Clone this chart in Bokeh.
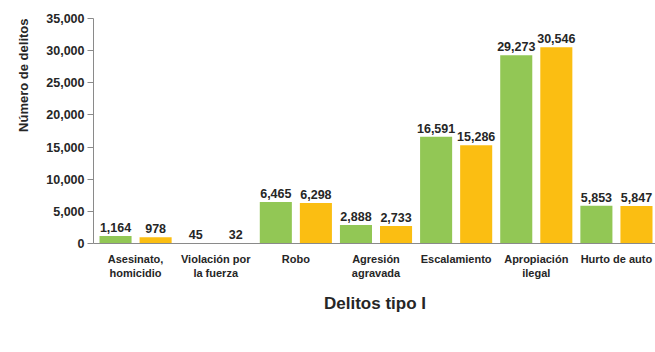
from bokeh.plotting import figure
from bokeh.models import ColumnDataSource, FixedTicker, Legend, LegendItem, Title, NumeralTickFormatter, Range1d
from bokeh.transform import dodge
from bokeh.core.properties import value
from bokeh.embed import file_html
from bokeh.resources import INLINE

categories = ["Asesinato,\nhomicidio", "Violación por\nla fuerza", "Robo", "Agresión\nagravada",
              "Escalamiento", "Apropiación\nilegal", "Hurto de auto"]
values_2011 = [1164, 45, 6465, 2888, 16591, 29273, 5853]
values_2012 = [978, 32, 6298, 2733, 15286, 30546, 5847]
years = ["2011", "2012"]
y_ticks = [0, 5000, 10000, 15000, 20000, 25000, 30000, 35000]

GREEN = "#92c755"
ORANGE = "#fbbe12"
TEXT = "#262626"
FONT = "Liberation Sans"

idx = list(range(len(categories)))
src = ColumnDataSource(dict(
    x=idx, v11=values_2011, v12=values_2012,
    l11=[f"{v:,}" for v in values_2011], l12=[f"{v:,}" for v in values_2012],
))

p = figure(width=655, height=344, output_backend="svg", toolbar_location=None,
           x_range=Range1d(-0.525, 6.5), y_range=Range1d(0, 35000),
           min_border_left=92, min_border_right=0, min_border_top=18, min_border_bottom=101,
           frame_width=563, frame_height=225)
p.outline_line_color = None
p.grid.visible = False

r11 = p.vbar(x=dodge("x", -0.25, range=p.x_range), top="v11", width=0.4, source=src,
             color=GREEN, line_color=None)
r12 = p.vbar(x=dodge("x", 0.25, range=p.x_range), top="v12", width=0.4, source=src,
             color=ORANGE, line_color=None)

for col, lab, off in (("v11", "l11", -0.25), ("v12", "l12", 0.25)):
    p.text(x=dodge("x", off, range=p.x_range), y=col, text=lab, source=src,
           text_align="center", text_baseline="bottom", y_offset=-4,
           text_font=value(FONT), text_font_style="bold", text_font_size="12.5px",
           text_color=TEXT)

ax = p.xaxis[0]
ax.ticker = FixedTicker(ticks=idx)
ax.major_label_overrides = {i: c for i, c in enumerate(categories)}
ax.major_tick_line_color = None
ax.minor_tick_line_color = None
ax.axis_line_color = "#8a8a8a"
ax.major_label_text_font = FONT
ax.major_label_text_font_style = "bold"
ax.major_label_text_font_size = "11px"
ax.major_label_text_color = TEXT
ax.major_label_standoff = 3
ax.axis_label = "Delitos tipo I"
ax.axis_label_text_font = FONT
ax.axis_label_text_font_style = "bold"
ax.axis_label_text_font_size = "17px"
ax.axis_label_text_color = TEXT
ax.axis_label_standoff = 12

ay = p.yaxis[0]
ay.ticker = FixedTicker(ticks=y_ticks)
ay.formatter = NumeralTickFormatter(format="0,0")
ay.axis_line_color = "#8a8a8a"
ay.major_tick_line_color = "#8a8a8a"
ay.major_tick_out = 6
ay.major_tick_in = 0
ay.minor_tick_line_color = None
ay.major_label_text_font = FONT
ay.major_label_text_font_style = "bold"
ay.major_label_text_font_size = "12.5px"
ay.major_label_text_color = TEXT
ay.major_label_standoff = 3

ytitle = Title(text="Número de delitos", align="right", text_font=FONT,
               text_font_style="bold", text_font_size="13px", text_color=TEXT,
               standoff=26, offset=0)
p.add_layout(ytitle, "left")

legend = Legend(items=[LegendItem(label=years[0], renderers=[r11]),
                       LegendItem(label=years[1], renderers=[r12])],
                orientation="horizontal", location=(218, -96),
                border_line_color=None, background_fill_alpha=0,
                label_text_font=FONT, label_text_font_style="bold",
                label_text_font_size="15px", label_text_color=TEXT,
                glyph_width=9, glyph_height=9, spacing=30, label_standoff=3,
                label_height=14, padding=0, margin=0)
p.add_layout(legend)

open("out.html", "w").write(file_html(p, INLINE))
